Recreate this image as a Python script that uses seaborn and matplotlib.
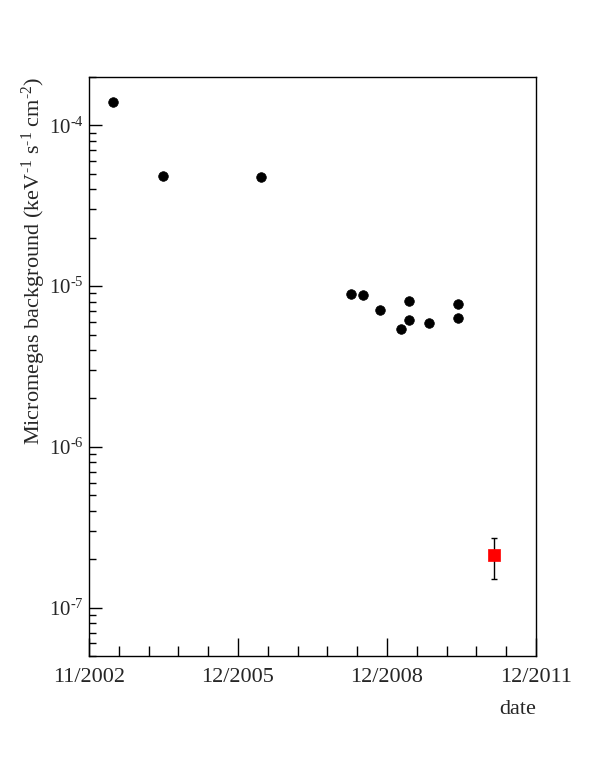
import matplotlib
matplotlib.use("Agg")
import matplotlib.pyplot as plt
import matplotlib.ticker as mticker
import seaborn as sns
import pandas as pd
import numpy as np

# Data (decimal years, background level)
dates = [2003.37, 2004.38, 2006.39, 2008.22, 2008.48, 2008.81, 2009.40,
         2009.40, 2009.24, 2009.81, 2010.41, 2010.41]
background = [1.395e-4, 4.82e-5, 4.78e-5, 8.95e-6, 8.83e-6, 7.1e-6, 8.11e-6,
              6.15e-6, 5.41e-6, 5.91e-6, 7.76e-6, 6.35e-6]
new_date = [2011.15]
new_background = [2.13e-7]
new_err_low = [0.63e-7]
new_err_high = [0.58e-7]

tick_positions = [2002.88, 2005.92, 2008.96, 2012.0]
tick_labels = ["11/2002", "12/2005", "12/2008", "12/2011"]

sns.set_theme(style="white")
plt.rcParams['font.family'] = ['Liberation Serif', 'DejaVu Serif']
plt.rcParams['mathtext.fontset'] = 'custom'
plt.rcParams['mathtext.rm'] = 'Liberation Serif'
plt.rcParams['mathtext.it'] = 'Liberation Serif:italic'
plt.rcParams['mathtext.bf'] = 'Liberation Serif:bold'

fig = plt.figure(figsize=(5.96, 7.72), dpi=100)
ax = fig.add_axes([89/596, 1-656/772, (536-89)/596, (656-77)/772])

df = pd.DataFrame({"date": dates, "bg": background})
sns.scatterplot(data=df, x="date", y="bg", ax=ax, color="black", s=48,
                marker="o", edgecolor="black", linewidth=0.5, zorder=3)

df2 = pd.DataFrame({"date": new_date, "bg": new_background})
ax.errorbar(new_date, new_background, yerr=[new_err_low, new_err_high],
            fmt="none", ecolor="black", elinewidth=1, capsize=2.5, capthick=1, zorder=2)
sns.scatterplot(data=df2, x="date", y="bg", ax=ax, color="#ff0000", s=70,
                marker="s", edgecolor="#ff0000", linewidth=0.5, zorder=4)

ax.set_yscale("log")
ax.set_ylim(5e-8, 2e-4)
ax.set_xlim(tick_positions[0], tick_positions[-1])

ax.set_xticks(tick_positions)
ax.set_xticklabels(tick_labels)
minor = []
for a, b in zip(tick_positions[:-1], tick_positions[1:]):
    for k in range(1, 5):
        minor.append(a + (b - a) * k / 5)
ax.xaxis.set_minor_locator(mticker.FixedLocator(minor))
ax.yaxis.set_major_locator(mticker.LogLocator(base=10))
ax.yaxis.set_minor_locator(mticker.LogLocator(base=10, subs=np.arange(2, 10)))
ax.yaxis.set_minor_formatter(mticker.NullFormatter())


def log_fmt(v, pos):
    e = int(round(np.log10(v)))
    if e < 0:
        return r"$\mathdefault{10^{\text{-}%d}}$" % (-e)
    return r"$\mathdefault{10^{%d}}$" % e


ax.yaxis.set_major_formatter(mticker.FuncFormatter(log_fmt))

ax.tick_params(axis="x", which="major", direction="in", length=13, width=1,
               labelsize=16, pad=9, color="black", bottom=True, top=False)
ax.tick_params(axis="x", which="minor", direction="in", length=7, width=1,
               color="black", bottom=True, top=False)
ax.tick_params(axis="y", which="major", direction="in", length=9, width=1,
               labelsize=15, pad=4, color="black", left=True, right=False)
ax.tick_params(axis="y", which="minor", direction="in", length=5, width=1,
               color="black", left=True, right=False)

for sp in ax.spines.values():
    sp.set_color("black")
    sp.set_linewidth(1)

ax.set_xlabel("date", fontsize=16, loc="right", labelpad=9)
ax.set_ylabel(r"Micromegas background (keV$^{\text{-1}}$ s$^{\text{-1}}$ cm$^{\text{-2}}$)",
              fontsize=16, loc="top")
ax.yaxis.set_label_coords(-0.092, 1.0)
ax.grid(False)

fig.savefig("out.png", dpi=100, facecolor="white")
